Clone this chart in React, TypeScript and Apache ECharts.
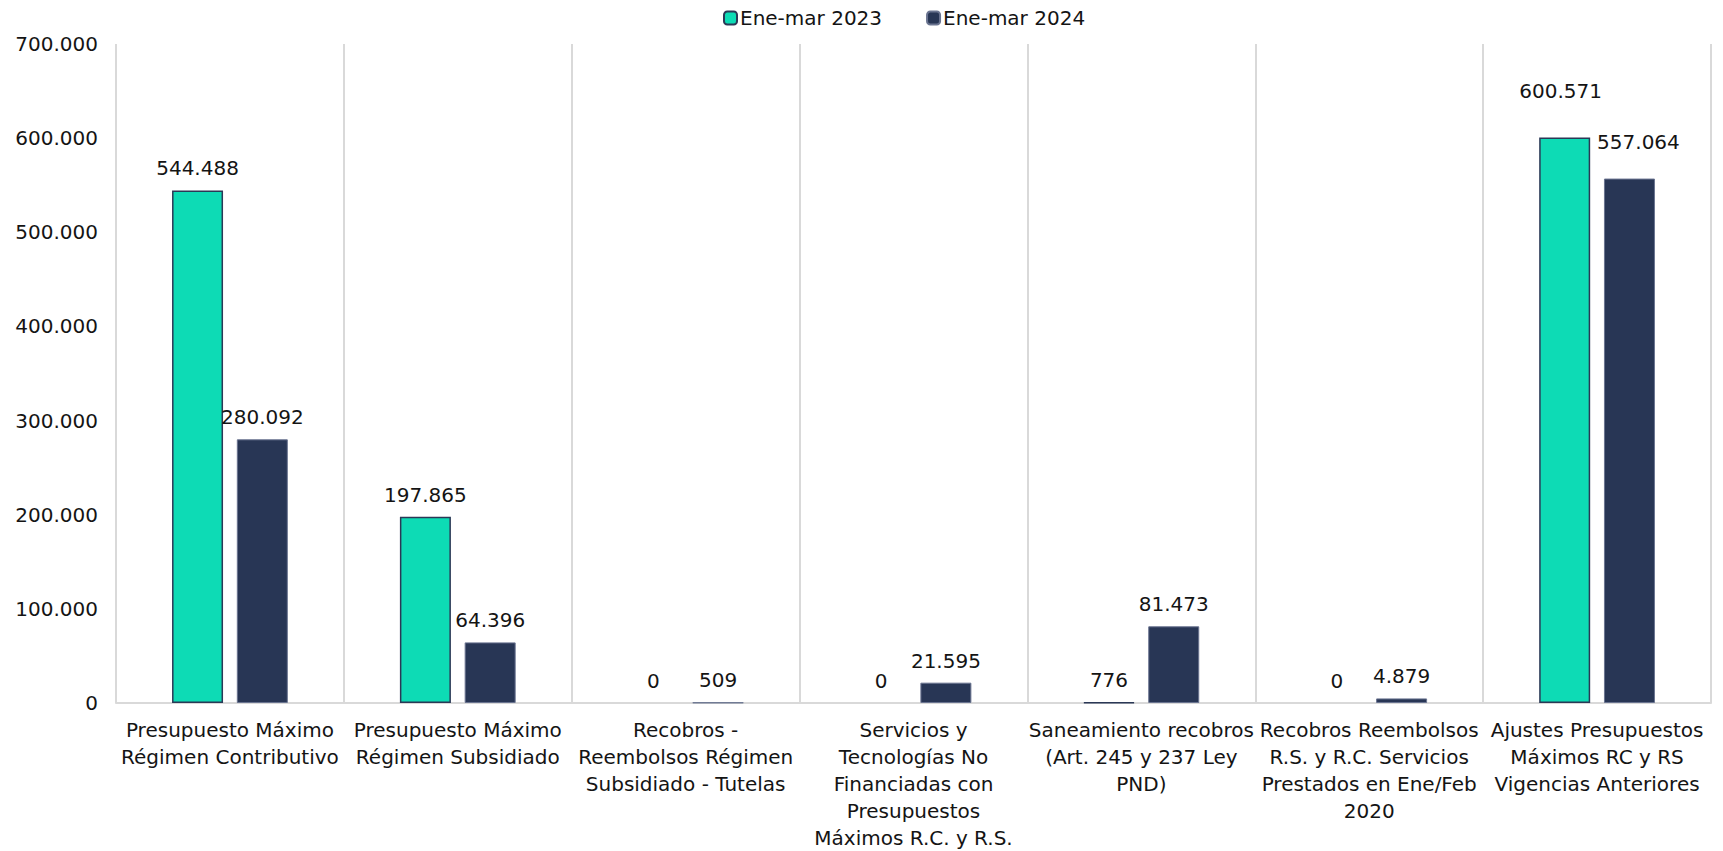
import React, { useEffect, useRef } from "react";
import * as echarts from "echarts";

const categories = [
  "Presupuesto Máximo\nRégimen Contributivo",
  "Presupuesto Máximo\nRégimen Subsidiado",
  "Recobros -\nReembolsos Régimen\nSubsidiado - Tutelas",
  "Servicios y\nTecnologías No\nFinanciadas con\nPresupuestos\nMáximos R.C. y R.S.",
  "Saneamiento recobros\n(Art. 245 y 237 Ley\nPND)",
  "Recobros Reembolsos\nR.S. y R.C. Servicios\nPrestados en Ene/Feb\n2020",
  "Ajustes Presupuestos\nMáximos RC y RS\nVigencias Anteriores",
];
const seriesNames = ["Ene-mar 2023", "Ene-mar 2024"];
const values2023 = [544488, 197865, 0, 0, 776, 0, 600571];
const values2024 = [280092, 64396, 509, 21595, 81473, 4879, 557064];
const yTicks = { min: 0, max: 700000, interval: 100000 };

const FONT = "'DejaVu Sans', Verdana, sans-serif";
const TEXT = "#141414";

const fmt = (n: number) => String(n).replace(/\B(?=(\d{3})+(?!\d))/g, ".");

export default function App() {
  const ref = useRef<HTMLDivElement>(null);
  useEffect(() => {
    document.body.style.margin = "0";
    if (!ref.current) return;
    const chart = echarts.init(ref.current, undefined, { renderer: "svg" });
    const labelBase = {
      show: true,
      position: "top" as const,
      distance: 12,
      fontFamily: FONT,
      fontSize: 20,
      color: TEXT,
      formatter: (p: any) => fmt(p.value),
    };
    const mk = (vals: number[], lastOffset: number[]) =>
      vals.map((v, i) => {
        const item: any = { value: v };
        if (v === 0) item.itemStyle = { borderWidth: 0 };
        if (i === vals.length - 1) item.label = { offset: lastOffset };
        return item;
      });
    chart.setOption({
      animation: false,
      backgroundColor: "#ffffff",
      textStyle: { fontFamily: FONT },
      legend: {
        top: 3,
        left: 718,
        itemWidth: 13,
        itemHeight: 13,
        itemGap: 44,
        textStyle: { fontFamily: FONT, fontSize: 20, color: TEXT, padding: [0, 0, 0, -2] },
        data: seriesNames,
      },
      grid: { left: 116, right: 12, top: 44, bottom: 139, containLabel: false },
      xAxis: {
        type: "category",
        data: categories,
        axisLine: { show: true, lineStyle: { color: "#d9d9d9", width: 2 } },
        axisTick: { show: false },
        splitLine: { show: true, lineStyle: { color: "#d9d9d9", width: 2 } },
        axisLabel: {
          interval: 0,
          margin: 13,
          fontFamily: FONT,
          fontSize: 20,
          lineHeight: 27,
          color: TEXT,
          align: "center",
        },
      },
      yAxis: {
        type: "value",
        min: yTicks.min,
        max: yTicks.max,
        interval: yTicks.interval,
        axisLine: { show: false },
        axisTick: { show: false },
        splitLine: { show: false },
        axisLabel: {
          margin: 18,
          fontFamily: FONT,
          fontSize: 20,
          color: TEXT,
          formatter: (v: number) => fmt(v),
        },
      },
      series: [
        {
          name: seriesNames[0],
          type: "bar",
          data: mk(values2023, [-4, -25]),
          barWidth: 51,
          barGap: "27%",
          itemStyle: { color: "#0ddbb5", borderColor: "#2b3856", borderWidth: 1.5 },
          label: labelBase,
        },
        {
          name: seriesNames[1],
          type: "bar",
          data: mk(values2024, [9, -15]),
          barWidth: 51,
          barGap: "27%",
          itemStyle: { color: "#283655", borderColor: "#6a7490", borderWidth: 1 },
          label: labelBase,
        },
      ],
    });
    return () => chart.dispose();
  }, []);
  return <div ref={ref} style={{ width: 1723, height: 851 }} />;
}
